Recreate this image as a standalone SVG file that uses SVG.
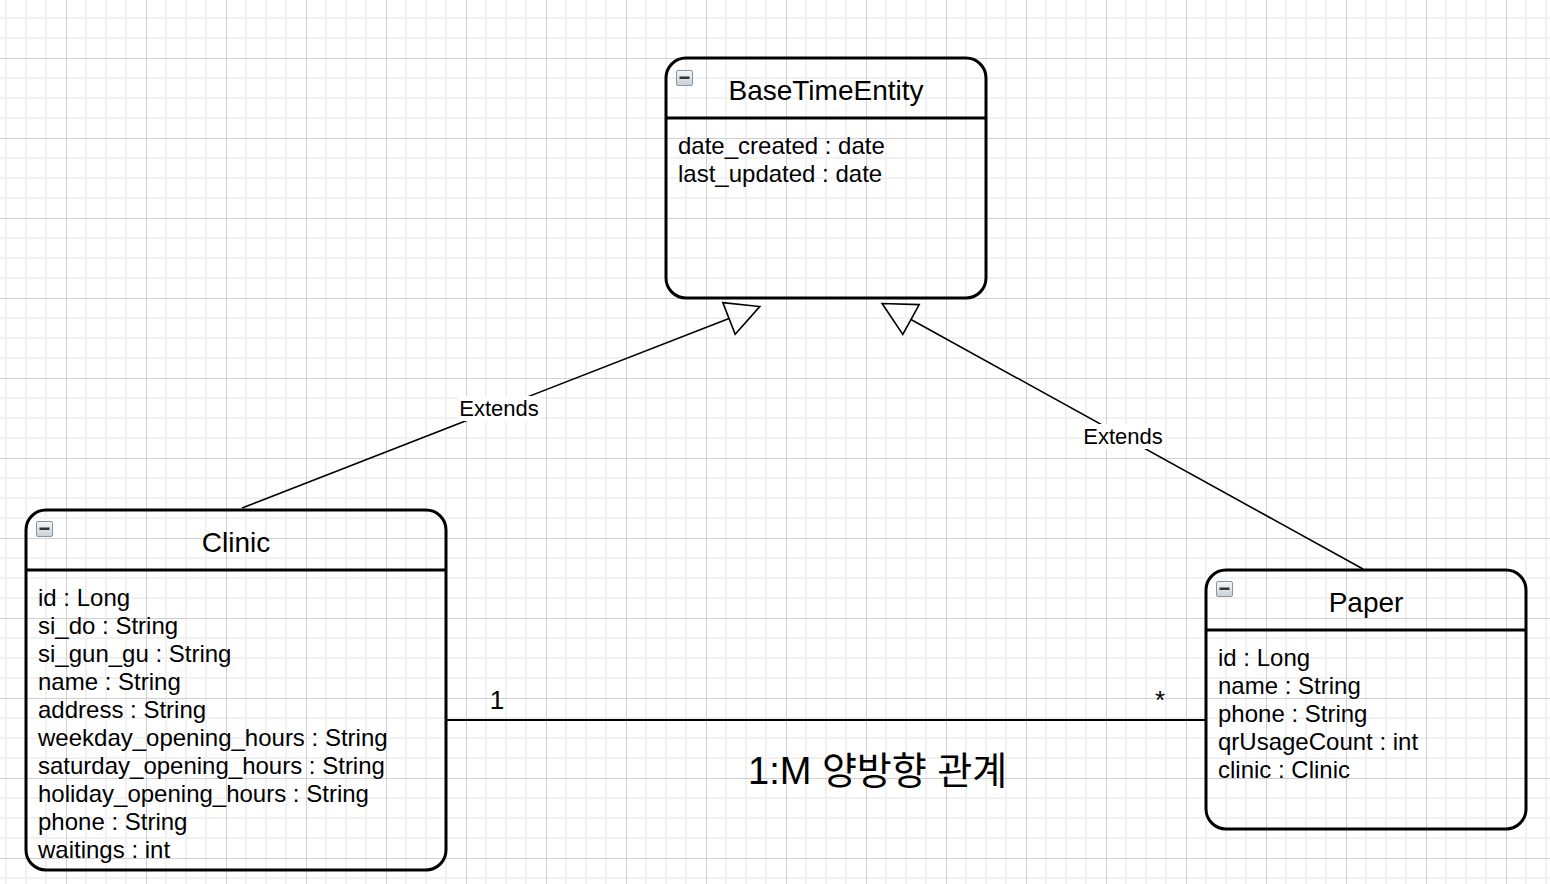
<svg xmlns="http://www.w3.org/2000/svg" width="1550" height="884" viewBox="0 0 1550 884">
  <defs>
    <pattern id="grid" patternUnits="userSpaceOnUse" x="56" y="48" width="80" height="80">
      <path d="M30 0V80M50 0V80M70 0V80M0 30H80M0 50H80M0 70H80" stroke="#f1f1f1" stroke-width="2" fill="none"/>
      <path d="M10.5 0V80M0 10.5H80" stroke="#d0d0d0" stroke-width="1" fill="none"/>
    </pattern>
    <linearGradient id="iconGrad" x1="0" y1="0" x2="0" y2="1">
      <stop offset="0" stop-color="#f4f6f8"/>
      <stop offset="1" stop-color="#c9d0d7"/>
    </linearGradient>
    <marker id="inherit" markerUnits="userSpaceOnUse" markerWidth="40" markerHeight="40" viewBox="0 0 40 40" refX="2" refY="20" orient="auto">
      <path d="M2 3 L35 20 L2 37 Z" fill="none" stroke="#000" stroke-width="1.6" stroke-linejoin="miter"/>
    </marker>
    <g id="minIcon">
      <rect x="0.5" y="0.5" width="16" height="15" rx="1.5" fill="url(#iconGrad)" stroke="#8795a3" stroke-width="1"/>
      <rect x="3.5" y="6.5" width="10" height="2.5" fill="#333"/>
    </g>
  </defs>
  <style>
    .box { fill: none; stroke: #000; stroke-width: 3; }
    .div { stroke: #000; stroke-width: 3; }
    .title { font-family: "Liberation Sans", Arial, Helvetica, sans-serif; font-size: 28px; fill: #000; text-anchor: middle; }
    .attr { font-family: "Liberation Sans", Arial, Helvetica, sans-serif; font-size: 24px; fill: #000; }
    .edge { fill: none; stroke: #000; stroke-width: 1.6; }
    .assoc { fill: none; stroke: #000; stroke-width: 2; }
    .lbl { font-family: "Liberation Sans", Arial, Helvetica, sans-serif; font-size: 22px; fill: #000; text-anchor: middle; }
    .mult { font-family: "Liberation Sans", Arial, Helvetica, sans-serif; font-size: 26px; fill: #000; text-anchor: middle; }
    .rel { font-family: "Liberation Sans", "Noto Sans CJK KR", sans-serif; font-size: 38px; fill: #000; }
  </style>
  <rect width="1550" height="884" fill="#fff"/>
  <rect width="1550" height="884" fill="url(#grid)"/>

  <g id="connectors">
    <path class="edge" d="M242 508 L729 318.5" marker-end="url(#inherit)"/>
    <path class="edge" d="M1363 569 L911 319.5" marker-end="url(#inherit)"/>
    <rect x="458" y="396" width="82" height="25" fill="#fff"/>
    <text class="lbl" x="499" y="416">Extends</text>
    <rect x="1083" y="424" width="81" height="25" fill="#fff"/>
    <text class="lbl" x="1123" y="444">Extends</text>
    <path class="assoc" d="M447 720 H1205"/>
    <text class="mult" x="497" y="709">1</text>
    <text class="mult" x="1160" y="709">*</text>
    <text class="rel" x="748" y="784">1:M 양방향 관계</text>
  </g>

  <g id="BaseTimeEntity">
    <rect class="box" x="666" y="58" width="320" height="240" rx="20" ry="20"/>
    <line class="div" x1="666" y1="118" x2="986" y2="118"/>
    <use href="#minIcon" x="676" y="70"/>
    <text class="title" x="826" y="100">BaseTimeEntity</text>
    <text class="attr" x="678" y="154">date_created : date</text>
    <text class="attr" x="678" y="182">last_updated : date</text>
  </g>

  <g id="Clinic">
    <rect class="box" x="26" y="510" width="420" height="360" rx="20" ry="20"/>
    <line class="div" x1="26" y1="570" x2="446" y2="570"/>
    <use href="#minIcon" x="36" y="521"/>
    <text class="title" x="236" y="552">Clinic</text>
    <text class="attr" x="38" y="606">id : Long</text>
    <text class="attr" x="38" y="634">si_do : String</text>
    <text class="attr" x="38" y="662">si_gun_gu : String</text>
    <text class="attr" x="38" y="690">name : String</text>
    <text class="attr" x="38" y="718">address : String</text>
    <text class="attr" x="38" y="746">weekday_opening_hours : String</text>
    <text class="attr" x="38" y="774">saturday_opening_hours : String</text>
    <text class="attr" x="38" y="802">holiday_opening_hours : String</text>
    <text class="attr" x="38" y="830">phone : String</text>
    <text class="attr" x="38" y="858">waitings : int</text>
  </g>

  <g id="Paper">
    <rect class="box" x="1206" y="570" width="320" height="259" rx="20" ry="20"/>
    <line class="div" x1="1206" y1="630" x2="1526" y2="630"/>
    <use href="#minIcon" x="1216" y="581"/>
    <text class="title" x="1366" y="612">Paper</text>
    <text class="attr" x="1218" y="666">id : Long</text>
    <text class="attr" x="1218" y="694">name : String</text>
    <text class="attr" x="1218" y="722">phone : String</text>
    <text class="attr" x="1218" y="750">qrUsageCount : int</text>
    <text class="attr" x="1218" y="778">clinic : Clinic</text>
  </g>
</svg>
